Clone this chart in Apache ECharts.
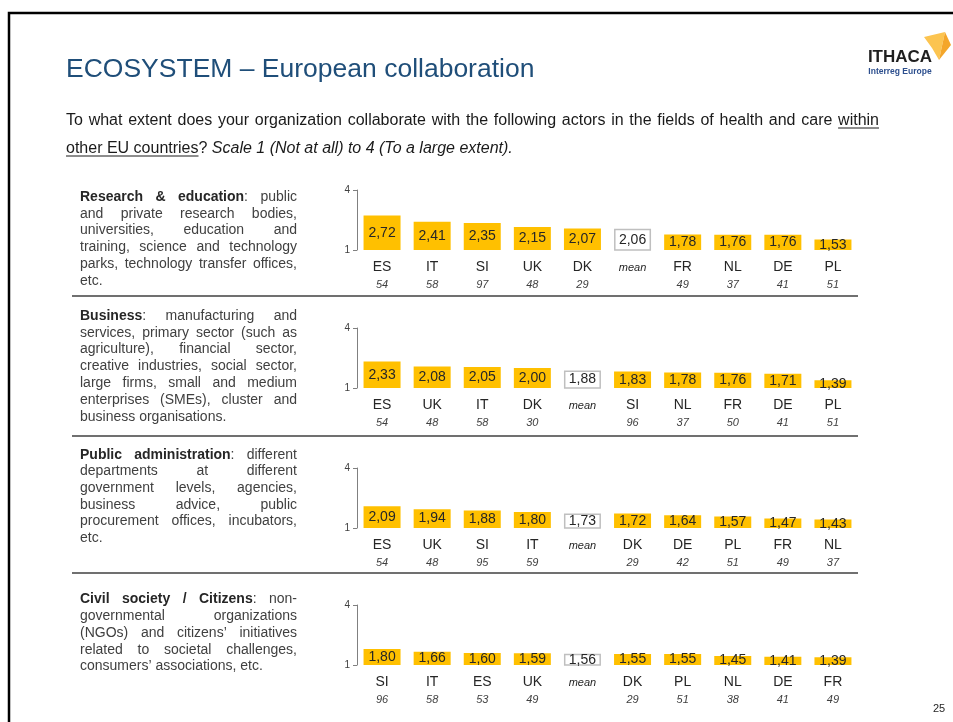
<!DOCTYPE html>
<html><head><meta charset="utf-8">
<script src="https://cdn.jsdelivr.net/npm/echarts@6/dist/echarts.min.js"></script>
<style>html,body{margin:0;padding:0;background:#fff}#c{width:953px;height:722px}</style>
</head><body><div id="c"></div>
<script>
// ---------- data ----------
const cats1 = ['ES','IT','SI','UK','DK','mean','FR','NL','DE','PL'];
const vals1 = [2.72,2.41,2.35,2.15,2.07,2.06,1.78,1.76,1.76,1.53];
const n1 = ['54','58','97','48','29','','49','37','41','51'];

const cats2 = ['ES','UK','IT','DK','mean','SI','NL','FR','DE','PL'];
const vals2 = [2.33,2.08,2.05,2.00,1.88,1.83,1.78,1.76,1.71,1.39];
const n2 = ['54','48','58','30','','96','37','50','41','51'];

const cats3 = ['ES','UK','SI','IT','mean','DK','DE','PL','FR','NL'];
const vals3 = [2.09,1.94,1.88,1.80,1.73,1.72,1.64,1.57,1.47,1.43];
const n3 = ['54','48','95','59','','29','42','51','49','37'];

const cats4 = ['SI','IT','ES','UK','mean','DK','PL','NL','DE','FR'];
const vals4 = [1.80,1.66,1.60,1.59,1.56,1.55,1.55,1.45,1.41,1.39];
const n4 = ['96','58','53','49','','29','51','38','41','49'];

const yMin = 1, yMax = 4;

const titleText = 'ECOSYSTEM – European collaboration';
const subLine1 = 'To what extent does your organization collaborate with the following actors in the fields of health and care';
const subLine1U = 'within';
const subLine2U = 'other EU countries';
const subLine2A = '? ';
const subLine2I = 'Scale 1 (Not at all) to 4 (To a large extent).';

const text1 = ['**Research & education**: public','and private research bodies,','universities, education and','training, science and technology','parks, technology transfer offices,','etc.'];
const text2 = ['**Business**: manufacturing and','services, primary sector (such as','agriculture), financial sector,','creative industries, social sector,','large firms, small and medium','enterprises (SMEs), cluster and','business organisations.'];
const text3 = ['**Public administration**: different','departments at different','government levels, agencies,','business advice, public','procurement offices, incubators,','etc.'];
const text4 = ['**Civil society / Citizens**: non-','governmental organizations','(NGOs) and citizens’ initiatives','related to societal challenges,','consumers’ associations, etc.'];

// ---------- helpers ----------
const FF = '"Liberation Sans", Arial, Helvetica, sans-serif';
const ctx = document.createElement('canvas').getContext('2d');
function measure(t, size, bold, italic){
  ctx.font = (italic?'italic ':'') + (bold?'bold ':'') + size + 'px ' + FF;
  return ctx.measureText(t).width;
}
function parseLine(str){
  const parts = str.split('**');
  const words = []; let cur = [];
  parts.forEach((p,i)=>{
    const bold = i % 2 === 1;
    p.split(' ').forEach((pc,j)=>{
      if (j > 0) { if (cur.length) words.push(cur); cur = []; }
      if (pc) cur.push({t:pc, b:bold});
    });
  });
  if (cur.length) words.push(cur);
  return words;
}
const graphics = [];
function paragraph(lines, x0, x1, y0, lh){
  const size = 14;
  lines.forEach((ln, li)=>{
    const words = parseLine(ln);
    const widths = words.map(w => w.reduce((s,g)=>s+measure(g.t,size,g.b,false),0));
    const total = widths.reduce((a,b)=>a+b,0);
    const last = li === lines.length-1 || words.length < 2;
    const gap = last ? measure(' ',size,false,false) : (x1-x0-total)/(words.length-1);
    let x = x0;
    words.forEach((w,wi)=>{
      graphics.push({type:'text', x:x, y:y0+li*lh, silent:true, style:{
        text: w.map(g => '{' + (g.b?'b':'n') + '|' + g.t + '}').join(''),
        verticalAlign:'middle', align:'left',
        rich:{
          n:{fontSize:size, fontFamily:FF, fill:'#404040', color:'#404040'},
          b:{fontSize:size, fontFamily:FF, fontWeight:'bold', fill:'#262626', color:'#262626'}
        }
      }});
      x += widths[wi] + gap;
    });
  });
}

// ---------- slide decorations ----------
graphics.push({type:'rect', silent:true, shape:{x:9, y:13, width:1000, height:1000}, style:{fill:'none', stroke:'#000', lineWidth:2.5}});
graphics.push({type:'text', x:66, y:70, silent:true, style:{text:titleText, fontSize:26.5, fontFamily:FF, fill:'#1f4e79', verticalAlign:'middle', align:'left'}});
// subtitle line 1 (justified to the right edge)
(function(){
  const size = 16, x0 = 66, x1 = 879, y = 121;
  const words = subLine1.split(' ').concat([subLine1U]);
  const widths = words.map(w => measure(w,size,false,false));
  const total = widths.reduce((a,b)=>a+b,0);
  const gap = (x1-x0-total)/(words.length-1);
  let x = x0;
  words.forEach((w,i)=>{
    graphics.push({type:'text', x:x, y:y, silent:true, style:{text:w, fontSize:size, fontFamily:FF, fill:'#1a1a1a', verticalAlign:'middle', align:'left'}});
    if (i === words.length-1) {
      graphics.push({type:'line', silent:true, shape:{x1:x, y1:y+7, x2:x+widths[i], y2:y+7}, style:{stroke:'#1a1a1a', lineWidth:1}});
    }
    x += widths[i] + gap;
  });
  const c = measure(subLine2U,size,false,false);
  graphics.push({type:'line', silent:true, shape:{x1:66, y1:156, x2:66+c, y2:156}, style:{stroke:'#1a1a1a', lineWidth:1}});
})();
graphics.push({type:'text', x:66, y:149, silent:true, style:{
  text:'{n|' + subLine2U + subLine2A + '}{i|' + subLine2I + '}', verticalAlign:'middle', align:'left',
  rich:{n:{fontSize:16, fontFamily:FF, fill:'#1a1a1a'}, i:{fontSize:16, fontFamily:FF, fontStyle:'italic', fill:'#1a1a1a'}}
}});
// logo
graphics.push({type:'polygon', silent:true, shape:{points:[[924,37],[945,32],[939,60],[932,48]]}, style:{fill:'#fcc450'}});
graphics.push({type:'polygon', silent:true, shape:{points:[[945,32],[951,45],[939,60]]}, style:{fill:'#f4a62a'}});
graphics.push({type:'text', x:900, y:57, silent:true, style:{text:'ITHACA', fontSize:17, fontWeight:600, fontFamily:FF, fill:'#1f1f1f', align:'center', verticalAlign:'middle'}});
graphics.push({type:'text', x:900, y:72, silent:true, style:{text:'Interreg Europe', fontSize:8.5, fontWeight:'bold', fontFamily:FF, fill:'#2d4f8e', align:'center', verticalAlign:'middle'}});
// page number
graphics.push({type:'text', x:939, y:709, silent:true, style:{text:'25', fontSize:11, fontFamily:FF, fill:'#262626', align:'center', verticalAlign:'middle'}});
// separators
[296, 436, 573].forEach(y=>{
  graphics.push({type:'line', silent:true, shape:{x1:72, y1:y, x2:858, y2:y}, style:{stroke:'#404040', lineWidth:1.5}});
});
// paragraphs
paragraph(text1, 80, 297, 197, 16.8);
paragraph(text2, 80, 297, 316, 16.8);
paragraph(text3, 80, 297, 455, 16.6);
paragraph(text4, 80, 297, 599, 16.9);

// ---------- chart ----------
const panels = [
  {cats:cats1, vals:vals1, n:n1, top:190},
  {cats:cats2, vals:vals2, n:n2, top:328},
  {cats:cats3, vals:vals3, n:n3, top:468},
  {cats:cats4, vals:vals4, n:n4, top:605}
];
const chart = echarts.init(document.getElementById('c'), null, {renderer:'canvas'});
chart.setOption({
  animation:false,
  textStyle:{fontFamily:FF},
  grid: panels.map(p=>({left:357, right:95, top:p.top, height:60})),
  xAxis: panels.map((p,i)=>({
    type:'category', gridIndex:i, data:p.cats,
    axisLine:{show:false}, axisTick:{show:false},
    axisLabel:{interval:0, margin:9,
      formatter:(v,idx)=> v === 'mean' ? '{m|mean}\n{k| }' : '{c|' + v + '}\n{k|' + p.n[idx] + '}',
      rich:{
        c:{fontSize:14, color:'#262626', lineHeight:17, fontFamily:FF},
        m:{fontSize:11, fontStyle:'italic', color:'#262626', lineHeight:17, fontFamily:FF},
        k:{fontSize:11, fontStyle:'italic', color:'#404040', lineHeight:17, fontFamily:FF}
      }}
  })),
  yAxis: panels.map((p,i)=>({
    type:'value', gridIndex:i, min:yMin, max:yMax, interval:yMax-yMin,
    splitLine:{show:false},
    axisLine:{show:true, lineStyle:{color:'#808080', width:1}},
    axisTick:{show:true, length:4, lineStyle:{color:'#808080'}},
    axisLabel:{fontSize:10, color:'#404040', margin:7}
  })),
  series: panels.map((p,i)=>({
    type:'bar', xAxisIndex:i, yAxisIndex:i, barWidth:37, clip:true,
    data: p.vals.map((v,j)=> p.cats[j]==='mean'
      ? {value:v, itemStyle:{color:'#ffffff', borderColor:'#bfbfbf', borderWidth:1.5}}
      : v),
    itemStyle:{color:'#FFC000'},
    label:{show:true, position:'inside', fontSize:14, color:'#262626',
      formatter: d => Number(d.value).toFixed(2).replace('.', ',')}
  })),
  graphic: graphics
});
</script>
</body></html>
